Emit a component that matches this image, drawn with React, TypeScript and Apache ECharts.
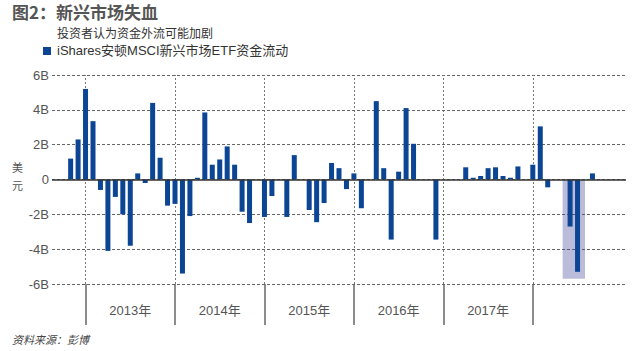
import React, { useEffect, useRef } from "react";
import * as echarts from "echarts";

// Monthly categories, Sep 2012 .. Jan 2019 (77 months)
const startYear = 2012;
const startMonth = 9;
const monthCount = 77;
const categories: string[] = [];
for (let i = 0; i < monthCount; i++) {
  const m = startMonth - 1 + i;
  const y = startYear + Math.floor(m / 12);
  const mm = (m % 12) + 1;
  categories.push(`${y}-${mm < 10 ? "0" + mm : mm}`);
}

// iShares MSCI EM ETF flows, billions USD
const flows: (number | null)[] = [
  null, null, 1.2, 2.3, 5.2, 3.35, -0.6, -4.1, -1.0, -2.0, -3.8, 0.35, -0.2, 4.4, 1.25, -1.5,
  -1.4, -5.4, -2.1, 0.1, 3.85, 0.85, 1.15, 1.9, 0.85, -1.85, -2.5, null,
  -2.15, -0.95, null, -2.15, 1.4, null, -1.75, -2.45, -1.35, 0.95, 0.65, -0.55,
  0.35, -1.65, null, 4.5, 0.65, -3.45, 0.45, 4.1, 2.05, null, null, -3.45,
  null, null, null, 0.7, 0.1, 0.2, 0.65, 0.7, 0.2, 0.1, 0.75, null,
  0.85, 3.05, -0.45, null, null, -2.7, -5.3, null, 0.35, null, null, null, null,
];

const yearSeparators = ["2013-01", "2014-01", "2015-01", "2016-01", "2017-01", "2018-01"];
const yearLabelMonths = ["2013-07", "2014-07", "2015-07", "2016-07", "2017-07"];
const shadeFrom = "2018-05";
const shadeTo = "2018-08";
const shadeBottom = -5.7;

const yMin = -6;
const yMax = 6;
const yStep = 2;

const BAR = "#0b4594";
const FONT = "'Liberation Sans', 'Noto Sans CJK SC', sans-serif";
const CJK = "'Noto Sans CJK SC', sans-serif";

export default function App() {
  const ref = useRef<HTMLDivElement>(null);
  useEffect(() => {
    if (!ref.current) return;
    const chart = echarts.init(ref.current, null, { renderer: "svg" });
    const nulls = categories.map(() => null);
    chart.setOption({
      animation: false,
      backgroundColor: "#fff",
      textStyle: { fontFamily: FONT },
      grid: [
        { left: 52, right: 15, top: 75, height: 209 },
        { left: 52, right: 15, top: 284, height: 41 },
      ],
      xAxis: [
        {
          type: "category",
          gridIndex: 0,
          data: categories,
          axisLine: { show: false, onZero: false },
          axisTick: { show: false },
          splitLine: { show: false },
          axisLabel: {
            interval: (i: number, v: string) => yearLabelMonths.includes(v),
            formatter: (v: string) => v.slice(0, 4) + "年",
            margin: 20,
            color: "#555",
            fontSize: 13,
            fontFamily: FONT,
          },
        },
        {
          type: "category",
          gridIndex: 1,
          data: categories,
          show: false,
        },
      ],
      yAxis: [
        {
          type: "value",
          gridIndex: 0,
          min: yMin,
          max: yMax,
          interval: yStep,
          axisLine: { show: false },
          axisTick: { show: false },
          axisLabel: {
            formatter: (v: number) => (v === 0 ? "0" : v + "B"),
            color: "#555",
            fontSize: 13,
            margin: 3,
            fontFamily: FONT,
          },
          splitLine: { show: true, lineStyle: { color: "#666", type: [3, 2], width: 1 } },
        },
        { type: "value", gridIndex: 1, min: 0, max: 1, show: false },
      ],
      series: [
        {
          type: "line",
          xAxisIndex: 0,
          yAxisIndex: 0,
          data: nulls,
          symbol: "none",
          silent: true,
          z: 1,
          markArea: {
            silent: true,
            z: 1,
            itemStyle: { color: "rgba(58,63,148,0.35)" },
            data: [[{ xAxis: shadeFrom, yAxis: 0 }, { xAxis: shadeTo, yAxis: shadeBottom }]],
          },
          markLine: {
            silent: true,
            z: 1,
            symbol: ["none", "none"],
            label: { show: false },
            data: yearSeparators.map((c) => ({
              xAxis: c,
              lineStyle: { color: "#777", type: [2, 2], width: 1 },
            })),
          },
        },
        {
          type: "bar",
          name: "flows",
          xAxisIndex: 0,
          yAxisIndex: 0,
          data: flows,
          barWidth: 5,
          itemStyle: { color: BAR },
          z: 3,
          markLine: {
            silent: true,
            z: 5,
            symbol: ["none", "none"],
            label: { show: false },
            data: [{ yAxis: 0, lineStyle: { color: "#333", type: "solid", width: 1.5 } }],
          },
        },
        {
          type: "line",
          xAxisIndex: 1,
          yAxisIndex: 1,
          data: nulls,
          symbol: "none",
          silent: true,
          markLine: {
            silent: true,
            symbol: ["none", "none"],
            label: { show: false },
            data: yearSeparators.map((c) => ({
              xAxis: c,
              lineStyle: { color: "#666", type: "solid", width: 1.5 },
            })),
          },
        },
      ],
      graphic: [
        {
          type: "text",
          left: 12,
          top: 3,
          style: { text: "图2：新兴市场失血", fontSize: 17, fontWeight: "bold", fill: "#555", fontFamily: CJK },
        },
        {
          type: "text",
          left: 57,
          top: 26,
          style: { text: "投资者认为资金外流可能加剧", fontSize: 12, fill: "#333", fontFamily: CJK },
        },
        { type: "rect", shape: { x: 43, y: 47, width: 8, height: 8 }, style: { fill: BAR } },
        {
          type: "text",
          left: 57,
          top: 44,
          style: { text: "iShares安顿MSCI新兴市场ETF资金流动", fontSize: 13, fill: "#333", fontFamily: FONT },
        },
        {
          type: "text",
          left: 12,
          top: 161,
          style: { text: "美", fontSize: 11, fill: "#555", fontFamily: CJK },
        },
        {
          type: "text",
          left: 12,
          top: 179,
          style: { text: "元", fontSize: 11, fill: "#555", fontFamily: CJK },
        },
        {
          type: "text",
          left: 12,
          top: 333,
          style: { text: "资料来源：彭博", fontSize: 11, fontStyle: "italic", fill: "#444", fontFamily: CJK },
        },
      ],
    });
    return () => chart.dispose();
  }, []);
  return (
    <div
      ref={ref}
      style={{ position: "absolute", left: 0, top: 0, width: 641, height: 351 }}
    />
  );
}
